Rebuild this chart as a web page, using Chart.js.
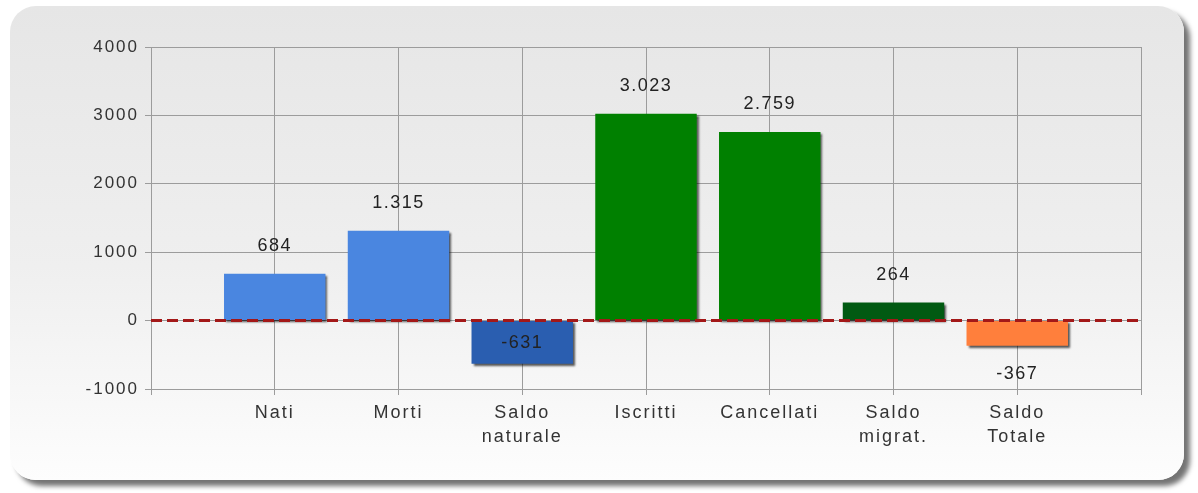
<!DOCTYPE html>
<html>
<head>
<meta charset="utf-8">
<script src="https://cdn.jsdelivr.net/npm/chart.js@4/dist/chart.umd.min.js"></script>
<style>
  html, body { margin: 0; padding: 0; background: #fff; }
  #wrap { position: relative; width: 1198px; height: 493px; overflow: hidden; }
  #panel {
    position: absolute; left: 10px; top: 6px; width: 1174px; height: 474px;
    border-radius: 26px;
    background: linear-gradient(to bottom, #e6e6e6 0%, #efefef 55%, #fdfdfd 100%);
    box-shadow: 6px 6px 5px rgba(0, 0, 0, 0.55);
  }
  #chart { position: absolute; left: 0; top: 0; }
</style>
</head>
<body>
<div id="wrap">
  <div id="panel"></div>
  <canvas id="chart" width="1198" height="493"></canvas>
</div>
<script>
// empty slots at both ends keep the axis width as in the original
const categories = ['', 'Nati', 'Morti', ['Saldo', 'naturale'], 'Iscritti', 'Cancellati', ['Saldo', 'migrat.'], ['Saldo', 'Totale'], ''];
const values = [null, 684, 1315, -631, 3023, 2759, 264, -367, null];
const barColors = [null, '#4a86e0', '#4a86e0', '#2a5eb0', '#008000', '#008000', '#015a12', '#ff7f3c', null];
const yMin = -1000;
const yMax = 4000;
const yStep = 1000;

const fmt = (v) => String(v).replace(/\B(?=(\d{3})+(?!\d))/g, '.');

// the original text is rendered quite wide, so add some letter spacing
const spacing = {
  id: 'spacing',
  beforeUpdate(chart) { chart.ctx.letterSpacing = '2px'; },
  beforeDraw(chart) { chart.ctx.letterSpacing = '2px'; },
};

const barShadow = {
  id: 'barShadow',
  beforeDatasetsDraw(chart) {
    const ctx = chart.ctx;
    ctx.save();
    ctx.shadowColor = 'rgba(0,0,0,0.65)';
    ctx.shadowBlur = 2;
    ctx.shadowOffsetX = 2;
    ctx.shadowOffsetY = 2;
  },
  afterDatasetsDraw(chart) {
    chart.ctx.restore();
  },
};

const zeroLine = {
  id: 'zeroLine',
  afterDatasetsDraw(chart) {
    const { ctx, chartArea } = chart;
    const y = chart.scales.y.getPixelForValue(0);
    ctx.save();
    ctx.strokeStyle = '#a31818';
    ctx.lineWidth = 3;
    ctx.setLineDash([11, 5]);
    ctx.beginPath();
    ctx.moveTo(chartArea.left, y);
    ctx.lineTo(chartArea.right, y);
    ctx.stroke();
    ctx.restore();
  },
};

const valueLabels = {
  id: 'valueLabels',
  afterDraw(chart) {
    const { ctx, chartArea } = chart;
    const meta = chart.getDatasetMeta(0);
    ctx.save();
    ctx.font = '18px "Liberation Sans", Arial, sans-serif';
    ctx.letterSpacing = '1.5px';
    ctx.fillStyle = '#222';
    ctx.textAlign = 'center';
    ctx.textBaseline = 'middle';
    meta.data.forEach((bar, i) => {
      const v = values[i];
      if (v === null) return;
      let y;
      if (v >= 0) {
        y = bar.y - 28;
      } else {
        y = bar.y + 28;
        if (y + 8 > chartArea.bottom) y = bar.base + 22;
      }
      ctx.fillText(fmt(v), bar.x, y);
    });
    ctx.restore();
  },
};

const gridColor = '#9c9c9c';
const fontFamily = '"Liberation Sans", Arial, sans-serif';

new Chart(document.getElementById('chart'), {
  type: 'bar',
  data: {
    labels: categories,
    datasets: [{
      data: values,
      backgroundColor: barColors,
      borderWidth: 0,
      barPercentage: 0.82,
      categoryPercentage: 1,
    }],
  },
  options: {
    responsive: false,
    animation: false,
    layout: { padding: { top: 47, right: 57, left: 0, bottom: 0 } },
    plugins: { legend: { display: false }, tooltip: { enabled: false } },
    scales: {
      x: {
        offset: false,
        grid: { color: gridColor, tickLength: 6, offset: false },
        border: { color: gridColor },
        ticks: {
          autoSkip: false, maxRotation: 0, padding: 6, color: '#333',
          font: { family: fontFamily, size: 18, lineHeight: '24px' },
        },
        afterFit: (s) => { s.height = 104; },
      },
      y: {
        min: yMin,
        max: yMax,
        grid: { color: gridColor, tickLength: 6 },
        border: { color: gridColor },
        ticks: {
          stepSize: yStep, padding: 6, color: '#333',
          font: { family: fontFamily, size: 17 },
          callback: (v) => String(v),
        },
        afterFit: (s) => { s.width = 151; },
      },
    },
  },
  plugins: [spacing, barShadow, zeroLine, valueLabels],
});
</script>
</body>
</html>
